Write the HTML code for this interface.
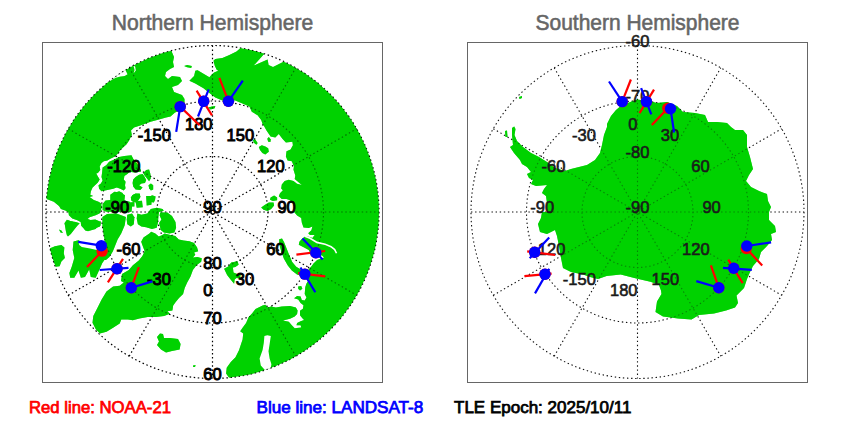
<!DOCTYPE html>
<html><head><meta charset="utf-8"><title>Satellite crossings</title>
<style>
html,body{margin:0;padding:0;background:#fff;}
body{width:850px;height:425px;overflow:hidden;font-family:"Liberation Sans",sans-serif;}
svg{display:block;}
.t{font-family:"Liberation Sans",sans-serif;}
</style></head><body>
<svg width="850" height="425" viewBox="0 0 850 425">
<defs>
<clipPath id="cn"><circle cx="212.5" cy="212.0" r="166.5"/></clipPath>
<clipPath id="cs"><circle cx="637.5" cy="212.0" r="166.5"/></clipPath>
</defs>
<rect width="850" height="425" fill="#fff"/>
<g clip-path="url(#cn)">
<polygon fill="#00d200" points="172.0,30.0 171.0,50.0 174.0,57.0 173.0,62.0 174.0,67.0 170.0,69.0 166.0,72.0 165.0,76.0 168.0,79.0 172.0,76.0 180.0,77.0 182.0,81.0 178.0,85.0 172.0,87.0 174.0,92.0 182.0,95.0 184.5,99.0 184.5,104.0 181.0,110.0 175.0,112.5 170.5,116.5 166.0,117.6 159.0,119.4 150.6,121.8 141.0,125.3 134.0,127.6 131.0,130.6 131.8,134.7 129.4,140.0 126.6,144.2 120.3,150.0 117.9,153.5 115.0,156.5 110.3,158.8 107.4,160.6 103.8,161.2 101.5,162.9 99.7,166.5 100.3,170.0 97.9,172.9 96.2,173.5 97.9,176.5 99.7,179.4 97.9,182.4 95.0,185.3 92.6,187.6 90.9,191.2 90.3,194.7 93.2,195.9 89.6,197.0 93.8,200.0 98.5,201.8 101.4,203.5 101.4,209.0 99.5,213.6 95.6,215.3 89.6,217.3 87.2,219.2 90.6,220.7 95.6,221.2 101.0,221.5 100.5,225.7 97.5,226.7 95.6,229.1 88.6,231.1 84.7,229.6 81.2,225.7 80.7,221.9 77.3,220.2 72.3,218.6 68.9,215.3 68.4,212.3 65.9,210.8 60.9,208.9 59.0,205.9 53.8,201.8 46.0,198.8 30.0,198.0 30.0,30.0"/>
<polygon fill="#00d200" points="64.4,223.2 66.9,219.7 70.8,221.2 75.8,221.9 79.7,223.2 77.3,225.7 74.3,229.6 70.8,234.1 67.9,236.6 66.9,234.1 68.9,229.6 65.9,226.7"/>
<polygon fill="#00d200" points="59.0,229.6 61.4,230.6 62.9,233.1 60.5,232.6"/>
<polygon fill="#00d200" points="46.7,248.5 50.8,247.9 54.9,246.2 61.4,245.0 64.4,247.4 63.8,253.2 64.9,257.9 61.4,261.5 59.6,266.2 55.5,266.8 53.2,260.3 49.1,255.6"/>
<polygon fill="#00d200" points="229.6,378.4 226.1,373.6 226.7,367.8 230.8,361.9 235.5,357.2 239.1,350.1 241.4,343.1 242.6,339.5 243.2,333.6 240.2,331.3 242.6,327.8 246.1,323.1 248.5,317.2 252.0,313.6 255.5,308.9 259.1,307.2 262.6,305.4 265.3,304.7 267.6,307.6 271.2,306.5 275.9,307.6 281.8,306.5 290.0,305.9 295.9,307.6 297.6,310.6 297.1,314.1 294.7,316.5 290.0,318.8 282.9,320.6 288.8,321.8 291.8,325.3 294.7,328.2 301.2,327.6 300.6,325.3 296.5,325.3 297.1,322.9 300.6,321.2 304.1,320.0 302.4,318.2 300.0,315.3 300.0,310.8 302.9,308.8 303.5,305.3 300.6,302.9 298.2,299.4 294.1,298.2 297.1,295.9 300.6,296.5 301.8,300.0 304.7,300.6 306.5,297.6 304.7,294.1 305.3,287.1 306.5,283.5 308.8,280.0 305.3,274.1 308.8,269.4 310.6,267.6 313.5,263.5 317.1,260.0 324.1,257.6 321.8,255.3 317.1,257.6 311.2,255.3 308.8,250.0 304.1,247.6 298.8,244.7 299.4,241.8 301.8,239.1 305.3,236.2 308.8,236.8 312.4,237.9 314.7,235.0 310.0,235.0 308.2,233.2 311.4,230.3 312.4,226.4 308.8,227.9 303.5,227.4 301.8,222.6 301.2,217.9 297.1,215.6 294.1,212.1 294.7,209.7 293.5,203.8 290.0,200.3 286.5,199.1 281.8,199.1 278.8,196.2 280.0,193.2 282.9,190.3 281.2,188.5 281.8,184.4 284.7,180.9 288.8,179.7 293.5,180.9 297.0,183.8 301.8,185.0 294.7,179.1 295.3,175.6 293.5,169.7 294.1,165.0 293.5,165.3 291.8,161.2 287.6,160.6 285.9,156.5 286.5,151.2 290.6,149.4 292.9,145.3 292.4,141.8 285.9,142.4 282.4,138.8 278.8,134.1 275.3,137.6 270.6,136.5 266.5,130.6 264.0,126.0 262.9,124.7 261.2,120.0 257.6,115.3 251.8,111.8 249.4,106.5 242.4,103.5 235.3,100.6 222.4,100.6 215.3,97.6 209.4,92.9 203.5,88.2 195.3,83.5 189.4,80.8 194.1,76.1 195.3,70.8 197.6,70.2 203.5,73.8 209.4,77.3 211.8,74.4 214.1,72.6 218.2,70.8 216.5,69.6 214.7,65.5 213.5,60.8 215.3,59.0 222.4,57.9 229.4,54.9 236.5,51.4 240.6,47.9 265.0,53.0 253.6,65.6 267.6,59.6 268.6,65.0 273.0,67.0 280.0,63.6 285.0,61.0 300.0,30.0 400.0,30.0 400.0,400.0 260.0,400.0 240.0,395.0"/>
<polygon fill="#fff" points="264.4,336.0 267.3,335.2 270.8,336.0 269.6,344.2 268.5,351.3 269.6,358.4 271.4,364.2 270.8,367.5 275.0,380.0 262.0,380.0 264.9,370.1 260.8,365.4 259.6,358.4 262.6,350.1 263.8,343.1"/>
<polygon fill="#fff" points="305.0,235.5 310.0,237.3 317.0,241.6 325.3,243.5 331.5,246.0 335.3,249.0 337.2,253.0 335.8,253.4 334.0,250.0 330.8,247.5 325.0,245.1 316.6,243.2 309.6,238.9 304.6,236.9"/>
<polygon fill="#00d200" points="279.2,239.2 282.0,238.6 284.0,242.0 286.0,247.0 289.2,255.0 292.2,262.0 296.2,266.8 301.2,269.8 306.4,270.8 307.0,275.6 302.0,276.0 297.0,274.4 291.8,270.4 287.8,265.4 283.8,258.4 281.0,250.4 279.2,244.0"/>
<polygon fill="#00d200" points="298.2,286.5 301.2,285.9 302.4,288.8 300.0,290.4 298.2,288.8"/>
<polygon fill="#00d200" points="267.3,138.8 268.8,137.1 270.8,139.4 270.4,142.1 268.2,141.8"/>
<polygon fill="#00d200" points="258.8,147.1 261.8,145.3 265.3,146.5 268.2,148.2 268.8,151.8 265.3,154.4 262.4,152.9 260.0,150.0"/>
<polygon fill="#00d200" points="252.9,140.0 255.3,139.4 257.6,142.9 256.5,144.7 254.1,142.9"/>
<polygon fill="#00d200" points="270.6,197.4 274.1,195.6 277.1,197.4 277.1,200.3 272.9,200.9 270.0,199.7"/>
<polygon fill="#00d200" points="261.2,207.4 264.7,205.0 268.8,202.6 273.5,202.6 274.1,205.6 271.2,209.1 267.6,210.9 263.5,209.7"/>
<polygon fill="#00d200" points="208.2,107.6 211.8,106.5 215.3,106.1 214.7,108.2 210.6,109.4"/>
<polygon fill="#00d200" points="184.1,66.1 187.1,64.9 191.8,66.1 191.2,67.9 187.1,67.3"/>
<polygon fill="#00d200" points="224.1,268.8 228.2,266.5 231.2,262.4 237.6,261.2 238.6,264.7 235.3,267.1 232.9,267.6 233.5,272.6 236.5,273.8 240.6,274.9 240.0,278.5 236.5,277.9 234.7,279.6 234.1,283.8 230.6,279.6 227.1,274.9"/>
<polygon fill="#00d200" points="157.0,337.0 160.0,333.6 163.0,334.0 164.0,338.0 170.0,338.0 178.0,339.0 180.6,344.0 179.6,349.4 172.0,351.0 166.0,352.4 161.0,349.4 157.0,345.0 159.0,341.4"/>
<polygon fill="#00d200" points="193.0,365.4 195.6,365.0 195.0,367.0 193.2,367.0"/>
<polygon fill="#00d200" points="128.8,270.0 132.9,265.3 138.8,260.6 142.4,255.9 144.7,251.2 142.9,246.5 141.2,241.8 143.5,237.6 149.4,233.5 151.2,231.8 155.3,233.5 158.8,236.5 161.8,235.3 164.7,233.5 169.4,234.7 175.3,235.9 178.8,239.4 183.5,240.6 189.4,241.2 194.1,242.9 197.1,247.6 198.2,251.2 194.1,252.4 195.3,254.7 192.9,257.6 197.6,257.1 201.8,258.2 201.2,261.8 196.5,265.3 192.9,270.0 190.5,276.6 187.2,282.4 184.7,288.1 183.1,293.9 179.0,298.0 175.7,302.1 173.2,305.4 172.4,310.4 167.4,311.2 169.9,313.7 164.1,316.1 155.9,317.0 147.7,317.0 139.4,318.6 132.8,320.2 127.9,319.4 121.3,319.4 119.7,323.5 113.1,327.7 106.5,331.8 99.9,333.4 95.8,329.3 92.5,322.7 93.3,316.1 97.4,307.9 101.5,299.7 106.5,291.4 113.1,286.5 119.7,285.7 123.8,282.4 121.0,281.0 122.0,274.0"/>
<polygon fill="#00d200" points="124.4,155.9 131.5,155.3 133.2,158.8 136.8,162.9 140.3,168.8 140.9,171.8 134.4,172.4 129.7,171.8 127.4,174.1 124.4,175.9 123.8,179.4 125.6,181.8 125.0,185.3 125.6,188.2 123.8,190.6 120.3,188.8 116.8,187.6 113.2,188.8 109.7,189.4 105.0,190.6 101.5,191.2 99.1,188.8 98.5,185.3 100.9,183.5 102.6,180.6 101.5,177.1 102.1,172.4 102.6,167.6 106.2,165.3 109.1,161.8 114.4,159.4 119.1,157.1"/>
<polygon fill="#00d200" points="133.2,179.4 135.6,177.1 139.1,174.7 142.6,174.1 144.4,176.5 146.2,180.0 145.0,182.9 141.5,183.5 139.1,185.3 142.6,187.6 140.3,190.0 135.6,189.4 133.2,186.5 132.6,182.9"/>
<polygon fill="#00d200" points="143.2,172.9 146.2,170.0 149.1,169.4 150.3,173.5 150.9,178.2 149.1,181.2 146.8,178.2 144.4,175.3"/>
<polygon fill="#00d200" points="148.5,185.3 150.9,183.5 153.2,185.3 153.2,189.4 150.9,190.6 149.1,188.2"/>
<polygon fill="#00d200" points="112.6,194.7 115.6,192.4 119.1,191.2 122.6,192.9 123.8,197.1 122.6,200.0 120.3,201.8 113.2,201.8"/>
<polygon fill="#00d200" points="132.1,195.3 135.6,193.5 139.7,194.1 140.3,197.1 138.5,200.0 136.8,202.4 132.6,201.8"/>
<polygon fill="#00d200" points="149.1,197.1 152.1,195.3 155.6,196.5 155.0,200.0 153.8,202.4 149.1,201.8"/>
<polygon fill="#00d200" points="110.3,194.7 114.4,191.8 120.3,192.4 125.0,195.3 124.4,200.6 129.7,201.8 132.1,206.5 131.5,211.8 126.2,212.4 120.3,211.8 113.2,211.8 106.2,211.8 102.6,210.0 102.6,204.1 105.6,200.6 110.3,200.0"/>
<polygon fill="#00d200" points="130.9,197.1 134.4,194.1 139.7,193.5 140.3,197.1 137.9,200.6 132.1,201.2"/>
<polygon fill="#00d200" points="160.2,212.5 167.3,212.5 172.0,216.0 175.5,221.9 176.1,227.8 174.4,232.5 169.6,233.6 163.8,232.5 160.8,230.1 159.1,223.1 161.4,219.5 159.6,215.4"/>
<polygon fill="#00d200" points="137.3,213.6 141.4,214.8 147.3,213.6 150.8,208.9 156.7,207.8 162.6,208.9 163.8,210.7 159.1,211.9 158.5,216.0 157.9,223.1 156.7,227.8 152.0,228.9 146.1,227.2 141.4,226.6 137.9,224.2 136.7,218.4"/>
<polygon fill="#00d200" points="127.3,214.8 132.0,213.6 134.4,217.2 133.8,224.2 130.8,226.6 127.3,224.2 126.7,219.5"/>
<polygon fill="#00d200" points="130.8,197.2 135.5,197.2 135.5,200.7 131.4,200.7"/>
<polygon fill="#00d200" points="135.5,201.3 142.0,200.7 142.8,207.2 136.7,207.8"/>
<polygon fill="#00d200" points="146.1,196.0 152.0,196.0 151.4,204.8 146.7,205.4"/>
<polygon fill="#00d200" points="129.6,202.5 134.4,201.9 134.4,206.6 129.6,206.6"/>
<polygon fill="#00d200" points="102.4,217.1 107.1,214.1 116.5,213.5 125.9,217.1 124.7,225.3 121.2,233.5 117.6,239.4 115.3,245.3 112.9,251.2 109.4,257.1 105.9,260.0 98.8,260.0 101.2,251.2 104.7,240.6 103.5,233.5 102.4,225.3"/>
<polygon fill="#00d200" points="64.7,224.1 68.2,220.6 72.9,221.8 75.3,225.3 72.9,230.0 69.4,233.5 67.1,235.9 65.9,231.2"/>
<polygon fill="#00d200" points="81.8,221.8 85.3,218.2 90.6,220.0 95.3,219.4 99.4,221.2 100.0,226.5 95.3,228.2 90.6,227.6 88.2,231.2 85.3,230.6 82.9,226.5"/>
<polygon fill="#00d200" points="73.5,241.6 78.5,240.3 83.4,243.3 90.0,244.9 97.4,247.4 103.2,241.6 109.7,251.5 106.4,257.3 102.3,263.0 99.0,270.4 95.7,277.8 90.8,277.0 89.2,269.6 85.0,277.0 80.9,277.8 78.5,270.4 74.3,277.8 70.2,277.8 69.4,272.9 71.9,266.3 74.3,258.1 72.7,249.9"/>
<polygon fill="#fff" points="78.5,242.1 86.7,243.6 96.6,245.4 97.9,250.2 90.0,248.5 81.8,246.9 79.3,244.9"/>
<polygon fill="#fff" points="109.0,81.5 115.7,77.8 120.4,76.4 124.6,75.9 127.5,74.3 126.0,71.2 125.4,69.2 118.0,73.0 109.0,79.0"/>
<polygon fill="#fff" points="133.1,65.1 135.2,66.8 135.8,70.5 133.6,73.3 134.6,70.0 134.0,67.5"/>
</g>
<g clip-path="url(#cs)">
<polygon fill="#00d200" points="637.0,99.5 649.0,101.0 657.0,103.0 667.0,102.0 677.0,106.0 683.0,112.0 695.0,113.0 705.0,115.0 708.0,122.0 717.0,122.0 727.0,123.0 731.0,127.0 735.0,130.0 743.0,130.0 747.0,135.0 747.0,147.0 750.0,157.0 753.0,169.0 749.0,175.0 746.0,181.0 751.0,187.0 759.0,191.0 767.0,194.0 768.0,201.0 771.0,207.0 769.0,212.0 769.0,220.0 775.0,226.0 776.0,232.0 771.0,234.0 772.0,240.0 767.0,246.0 761.0,252.0 759.0,259.0 753.0,266.0 750.0,272.0 747.0,279.0 744.0,288.0 736.5,295.5 738.0,303.0 735.0,307.5 726.0,310.5 714.0,313.5 699.0,315.0 691.5,319.5 678.0,318.6 663.0,316.5 655.5,312.0 657.0,301.5 661.5,294.0 661.0,290.4 658.9,284.8 650.4,281.7 636.3,278.4 620.7,274.6 606.6,276.0 598.0,279.0 590.0,277.0 583.0,274.5 571.0,272.0 563.0,268.0 561.0,258.0 559.0,246.0 557.0,236.0 555.0,230.0 547.0,234.0 540.0,232.0 538.0,224.0 541.0,218.0 542.0,212.0 547.0,212.0 547.0,203.0 546.0,196.0 542.0,193.0 544.0,189.0 547.0,185.0 536.0,186.0 531.0,184.0 533.0,180.0 529.0,178.0 527.0,174.0 531.0,172.0 527.0,167.0 522.0,164.0 520.0,160.0 514.0,153.0 510.0,147.0 513.0,145.0 512.0,135.0 512.0,128.0 514.2,126.5 515.5,129.0 514.5,135.0 517.0,141.0 523.0,147.0 531.0,153.0 539.0,157.0 547.0,162.0 555.0,168.0 565.0,171.0 571.0,169.0 579.0,167.0 587.0,165.0 595.0,160.0 600.0,153.0 602.0,145.0 604.0,135.0 607.0,127.0 607.0,124.0 611.0,116.0 616.0,110.0 622.0,105.0 629.0,102.5"/>
<polygon fill="#00d200" points="505.0,131.0 507.0,130.5 507.5,137.0 505.5,137.0"/>
<polygon fill="#00d200" points="519.0,97.0 522.0,96.0 522.0,98.0 519.5,99.0"/>
</g>
<g fill="none" stroke="#000" stroke-width="1.2" stroke-dasharray="1.5 2.6"><circle cx="212.5" cy="212.0" r="166.50"/><circle cx="212.5" cy="212.0" r="111.00"/><circle cx="212.5" cy="212.0" r="55.50"/><line x1="212.5" y1="45.5" x2="212.5" y2="378.5"/><line x1="129.2" y1="67.8" x2="295.8" y2="356.2"/><line x1="68.3" y1="128.8" x2="356.7" y2="295.2"/><line x1="46.0" y1="212.0" x2="379.0" y2="212.0"/><line x1="68.3" y1="295.2" x2="356.7" y2="128.8"/><line x1="129.2" y1="356.2" x2="295.8" y2="67.8"/></g>
<g fill="none" stroke="#111" stroke-width="1.1" stroke-dasharray="1.4 2.7"><circle cx="637.5" cy="212.0" r="166.50"/><circle cx="637.5" cy="212.0" r="111.00"/><circle cx="637.5" cy="212.0" r="55.50"/><line x1="637.5" y1="45.5" x2="637.5" y2="378.5"/><line x1="554.2" y1="67.8" x2="720.8" y2="356.2"/><line x1="493.3" y1="128.8" x2="781.7" y2="295.2"/><line x1="471.0" y1="212.0" x2="804.0" y2="212.0"/><line x1="493.3" y1="295.2" x2="781.7" y2="128.8"/><line x1="554.2" y1="356.2" x2="720.8" y2="67.8"/></g>
<g clip-path="url(#cn)" opacity="0.56">
<polygon fill="#00d200" points="172.0,30.0 171.0,50.0 174.0,57.0 173.0,62.0 174.0,67.0 170.0,69.0 166.0,72.0 165.0,76.0 168.0,79.0 172.0,76.0 180.0,77.0 182.0,81.0 178.0,85.0 172.0,87.0 174.0,92.0 182.0,95.0 184.5,99.0 184.5,104.0 181.0,110.0 175.0,112.5 170.5,116.5 166.0,117.6 159.0,119.4 150.6,121.8 141.0,125.3 134.0,127.6 131.0,130.6 131.8,134.7 129.4,140.0 126.6,144.2 120.3,150.0 117.9,153.5 115.0,156.5 110.3,158.8 107.4,160.6 103.8,161.2 101.5,162.9 99.7,166.5 100.3,170.0 97.9,172.9 96.2,173.5 97.9,176.5 99.7,179.4 97.9,182.4 95.0,185.3 92.6,187.6 90.9,191.2 90.3,194.7 93.2,195.9 89.6,197.0 93.8,200.0 98.5,201.8 101.4,203.5 101.4,209.0 99.5,213.6 95.6,215.3 89.6,217.3 87.2,219.2 90.6,220.7 95.6,221.2 101.0,221.5 100.5,225.7 97.5,226.7 95.6,229.1 88.6,231.1 84.7,229.6 81.2,225.7 80.7,221.9 77.3,220.2 72.3,218.6 68.9,215.3 68.4,212.3 65.9,210.8 60.9,208.9 59.0,205.9 53.8,201.8 46.0,198.8 30.0,198.0 30.0,30.0"/>
<polygon fill="#00d200" points="64.4,223.2 66.9,219.7 70.8,221.2 75.8,221.9 79.7,223.2 77.3,225.7 74.3,229.6 70.8,234.1 67.9,236.6 66.9,234.1 68.9,229.6 65.9,226.7"/>
<polygon fill="#00d200" points="59.0,229.6 61.4,230.6 62.9,233.1 60.5,232.6"/>
<polygon fill="#00d200" points="46.7,248.5 50.8,247.9 54.9,246.2 61.4,245.0 64.4,247.4 63.8,253.2 64.9,257.9 61.4,261.5 59.6,266.2 55.5,266.8 53.2,260.3 49.1,255.6"/>
<polygon fill="#00d200" points="229.6,378.4 226.1,373.6 226.7,367.8 230.8,361.9 235.5,357.2 239.1,350.1 241.4,343.1 242.6,339.5 243.2,333.6 240.2,331.3 242.6,327.8 246.1,323.1 248.5,317.2 252.0,313.6 255.5,308.9 259.1,307.2 262.6,305.4 265.3,304.7 267.6,307.6 271.2,306.5 275.9,307.6 281.8,306.5 290.0,305.9 295.9,307.6 297.6,310.6 297.1,314.1 294.7,316.5 290.0,318.8 282.9,320.6 288.8,321.8 291.8,325.3 294.7,328.2 301.2,327.6 300.6,325.3 296.5,325.3 297.1,322.9 300.6,321.2 304.1,320.0 302.4,318.2 300.0,315.3 300.0,310.8 302.9,308.8 303.5,305.3 300.6,302.9 298.2,299.4 294.1,298.2 297.1,295.9 300.6,296.5 301.8,300.0 304.7,300.6 306.5,297.6 304.7,294.1 305.3,287.1 306.5,283.5 308.8,280.0 305.3,274.1 308.8,269.4 310.6,267.6 313.5,263.5 317.1,260.0 324.1,257.6 321.8,255.3 317.1,257.6 311.2,255.3 308.8,250.0 304.1,247.6 298.8,244.7 299.4,241.8 301.8,239.1 305.3,236.2 308.8,236.8 312.4,237.9 314.7,235.0 310.0,235.0 308.2,233.2 311.4,230.3 312.4,226.4 308.8,227.9 303.5,227.4 301.8,222.6 301.2,217.9 297.1,215.6 294.1,212.1 294.7,209.7 293.5,203.8 290.0,200.3 286.5,199.1 281.8,199.1 278.8,196.2 280.0,193.2 282.9,190.3 281.2,188.5 281.8,184.4 284.7,180.9 288.8,179.7 293.5,180.9 297.0,183.8 301.8,185.0 294.7,179.1 295.3,175.6 293.5,169.7 294.1,165.0 293.5,165.3 291.8,161.2 287.6,160.6 285.9,156.5 286.5,151.2 290.6,149.4 292.9,145.3 292.4,141.8 285.9,142.4 282.4,138.8 278.8,134.1 275.3,137.6 270.6,136.5 266.5,130.6 264.0,126.0 262.9,124.7 261.2,120.0 257.6,115.3 251.8,111.8 249.4,106.5 242.4,103.5 235.3,100.6 222.4,100.6 215.3,97.6 209.4,92.9 203.5,88.2 195.3,83.5 189.4,80.8 194.1,76.1 195.3,70.8 197.6,70.2 203.5,73.8 209.4,77.3 211.8,74.4 214.1,72.6 218.2,70.8 216.5,69.6 214.7,65.5 213.5,60.8 215.3,59.0 222.4,57.9 229.4,54.9 236.5,51.4 240.6,47.9 265.0,53.0 253.6,65.6 267.6,59.6 268.6,65.0 273.0,67.0 280.0,63.6 285.0,61.0 300.0,30.0 400.0,30.0 400.0,400.0 260.0,400.0 240.0,395.0"/>
<polygon fill="#fff" points="264.4,336.0 267.3,335.2 270.8,336.0 269.6,344.2 268.5,351.3 269.6,358.4 271.4,364.2 270.8,367.5 275.0,380.0 262.0,380.0 264.9,370.1 260.8,365.4 259.6,358.4 262.6,350.1 263.8,343.1"/>
<polygon fill="#fff" points="305.0,235.5 310.0,237.3 317.0,241.6 325.3,243.5 331.5,246.0 335.3,249.0 337.2,253.0 335.8,253.4 334.0,250.0 330.8,247.5 325.0,245.1 316.6,243.2 309.6,238.9 304.6,236.9"/>
<polygon fill="#00d200" points="279.2,239.2 282.0,238.6 284.0,242.0 286.0,247.0 289.2,255.0 292.2,262.0 296.2,266.8 301.2,269.8 306.4,270.8 307.0,275.6 302.0,276.0 297.0,274.4 291.8,270.4 287.8,265.4 283.8,258.4 281.0,250.4 279.2,244.0"/>
<polygon fill="#00d200" points="298.2,286.5 301.2,285.9 302.4,288.8 300.0,290.4 298.2,288.8"/>
<polygon fill="#00d200" points="267.3,138.8 268.8,137.1 270.8,139.4 270.4,142.1 268.2,141.8"/>
<polygon fill="#00d200" points="258.8,147.1 261.8,145.3 265.3,146.5 268.2,148.2 268.8,151.8 265.3,154.4 262.4,152.9 260.0,150.0"/>
<polygon fill="#00d200" points="252.9,140.0 255.3,139.4 257.6,142.9 256.5,144.7 254.1,142.9"/>
<polygon fill="#00d200" points="270.6,197.4 274.1,195.6 277.1,197.4 277.1,200.3 272.9,200.9 270.0,199.7"/>
<polygon fill="#00d200" points="261.2,207.4 264.7,205.0 268.8,202.6 273.5,202.6 274.1,205.6 271.2,209.1 267.6,210.9 263.5,209.7"/>
<polygon fill="#00d200" points="208.2,107.6 211.8,106.5 215.3,106.1 214.7,108.2 210.6,109.4"/>
<polygon fill="#00d200" points="184.1,66.1 187.1,64.9 191.8,66.1 191.2,67.9 187.1,67.3"/>
<polygon fill="#00d200" points="224.1,268.8 228.2,266.5 231.2,262.4 237.6,261.2 238.6,264.7 235.3,267.1 232.9,267.6 233.5,272.6 236.5,273.8 240.6,274.9 240.0,278.5 236.5,277.9 234.7,279.6 234.1,283.8 230.6,279.6 227.1,274.9"/>
<polygon fill="#00d200" points="157.0,337.0 160.0,333.6 163.0,334.0 164.0,338.0 170.0,338.0 178.0,339.0 180.6,344.0 179.6,349.4 172.0,351.0 166.0,352.4 161.0,349.4 157.0,345.0 159.0,341.4"/>
<polygon fill="#00d200" points="193.0,365.4 195.6,365.0 195.0,367.0 193.2,367.0"/>
<polygon fill="#00d200" points="128.8,270.0 132.9,265.3 138.8,260.6 142.4,255.9 144.7,251.2 142.9,246.5 141.2,241.8 143.5,237.6 149.4,233.5 151.2,231.8 155.3,233.5 158.8,236.5 161.8,235.3 164.7,233.5 169.4,234.7 175.3,235.9 178.8,239.4 183.5,240.6 189.4,241.2 194.1,242.9 197.1,247.6 198.2,251.2 194.1,252.4 195.3,254.7 192.9,257.6 197.6,257.1 201.8,258.2 201.2,261.8 196.5,265.3 192.9,270.0 190.5,276.6 187.2,282.4 184.7,288.1 183.1,293.9 179.0,298.0 175.7,302.1 173.2,305.4 172.4,310.4 167.4,311.2 169.9,313.7 164.1,316.1 155.9,317.0 147.7,317.0 139.4,318.6 132.8,320.2 127.9,319.4 121.3,319.4 119.7,323.5 113.1,327.7 106.5,331.8 99.9,333.4 95.8,329.3 92.5,322.7 93.3,316.1 97.4,307.9 101.5,299.7 106.5,291.4 113.1,286.5 119.7,285.7 123.8,282.4 121.0,281.0 122.0,274.0"/>
<polygon fill="#00d200" points="124.4,155.9 131.5,155.3 133.2,158.8 136.8,162.9 140.3,168.8 140.9,171.8 134.4,172.4 129.7,171.8 127.4,174.1 124.4,175.9 123.8,179.4 125.6,181.8 125.0,185.3 125.6,188.2 123.8,190.6 120.3,188.8 116.8,187.6 113.2,188.8 109.7,189.4 105.0,190.6 101.5,191.2 99.1,188.8 98.5,185.3 100.9,183.5 102.6,180.6 101.5,177.1 102.1,172.4 102.6,167.6 106.2,165.3 109.1,161.8 114.4,159.4 119.1,157.1"/>
<polygon fill="#00d200" points="133.2,179.4 135.6,177.1 139.1,174.7 142.6,174.1 144.4,176.5 146.2,180.0 145.0,182.9 141.5,183.5 139.1,185.3 142.6,187.6 140.3,190.0 135.6,189.4 133.2,186.5 132.6,182.9"/>
<polygon fill="#00d200" points="143.2,172.9 146.2,170.0 149.1,169.4 150.3,173.5 150.9,178.2 149.1,181.2 146.8,178.2 144.4,175.3"/>
<polygon fill="#00d200" points="148.5,185.3 150.9,183.5 153.2,185.3 153.2,189.4 150.9,190.6 149.1,188.2"/>
<polygon fill="#00d200" points="112.6,194.7 115.6,192.4 119.1,191.2 122.6,192.9 123.8,197.1 122.6,200.0 120.3,201.8 113.2,201.8"/>
<polygon fill="#00d200" points="132.1,195.3 135.6,193.5 139.7,194.1 140.3,197.1 138.5,200.0 136.8,202.4 132.6,201.8"/>
<polygon fill="#00d200" points="149.1,197.1 152.1,195.3 155.6,196.5 155.0,200.0 153.8,202.4 149.1,201.8"/>
<polygon fill="#00d200" points="110.3,194.7 114.4,191.8 120.3,192.4 125.0,195.3 124.4,200.6 129.7,201.8 132.1,206.5 131.5,211.8 126.2,212.4 120.3,211.8 113.2,211.8 106.2,211.8 102.6,210.0 102.6,204.1 105.6,200.6 110.3,200.0"/>
<polygon fill="#00d200" points="130.9,197.1 134.4,194.1 139.7,193.5 140.3,197.1 137.9,200.6 132.1,201.2"/>
<polygon fill="#00d200" points="160.2,212.5 167.3,212.5 172.0,216.0 175.5,221.9 176.1,227.8 174.4,232.5 169.6,233.6 163.8,232.5 160.8,230.1 159.1,223.1 161.4,219.5 159.6,215.4"/>
<polygon fill="#00d200" points="137.3,213.6 141.4,214.8 147.3,213.6 150.8,208.9 156.7,207.8 162.6,208.9 163.8,210.7 159.1,211.9 158.5,216.0 157.9,223.1 156.7,227.8 152.0,228.9 146.1,227.2 141.4,226.6 137.9,224.2 136.7,218.4"/>
<polygon fill="#00d200" points="127.3,214.8 132.0,213.6 134.4,217.2 133.8,224.2 130.8,226.6 127.3,224.2 126.7,219.5"/>
<polygon fill="#00d200" points="130.8,197.2 135.5,197.2 135.5,200.7 131.4,200.7"/>
<polygon fill="#00d200" points="135.5,201.3 142.0,200.7 142.8,207.2 136.7,207.8"/>
<polygon fill="#00d200" points="146.1,196.0 152.0,196.0 151.4,204.8 146.7,205.4"/>
<polygon fill="#00d200" points="129.6,202.5 134.4,201.9 134.4,206.6 129.6,206.6"/>
<polygon fill="#00d200" points="102.4,217.1 107.1,214.1 116.5,213.5 125.9,217.1 124.7,225.3 121.2,233.5 117.6,239.4 115.3,245.3 112.9,251.2 109.4,257.1 105.9,260.0 98.8,260.0 101.2,251.2 104.7,240.6 103.5,233.5 102.4,225.3"/>
<polygon fill="#00d200" points="64.7,224.1 68.2,220.6 72.9,221.8 75.3,225.3 72.9,230.0 69.4,233.5 67.1,235.9 65.9,231.2"/>
<polygon fill="#00d200" points="81.8,221.8 85.3,218.2 90.6,220.0 95.3,219.4 99.4,221.2 100.0,226.5 95.3,228.2 90.6,227.6 88.2,231.2 85.3,230.6 82.9,226.5"/>
<polygon fill="#00d200" points="73.5,241.6 78.5,240.3 83.4,243.3 90.0,244.9 97.4,247.4 103.2,241.6 109.7,251.5 106.4,257.3 102.3,263.0 99.0,270.4 95.7,277.8 90.8,277.0 89.2,269.6 85.0,277.0 80.9,277.8 78.5,270.4 74.3,277.8 70.2,277.8 69.4,272.9 71.9,266.3 74.3,258.1 72.7,249.9"/>
<polygon fill="#fff" points="78.5,242.1 86.7,243.6 96.6,245.4 97.9,250.2 90.0,248.5 81.8,246.9 79.3,244.9"/>
<polygon fill="#fff" points="109.0,81.5 115.7,77.8 120.4,76.4 124.6,75.9 127.5,74.3 126.0,71.2 125.4,69.2 118.0,73.0 109.0,79.0"/>
<polygon fill="#fff" points="133.1,65.1 135.2,66.8 135.8,70.5 133.6,73.3 134.6,70.0 134.0,67.5"/>
</g>
<g clip-path="url(#cs)" opacity="0.6">
<polygon fill="#00d200" points="637.0,99.5 649.0,101.0 657.0,103.0 667.0,102.0 677.0,106.0 683.0,112.0 695.0,113.0 705.0,115.0 708.0,122.0 717.0,122.0 727.0,123.0 731.0,127.0 735.0,130.0 743.0,130.0 747.0,135.0 747.0,147.0 750.0,157.0 753.0,169.0 749.0,175.0 746.0,181.0 751.0,187.0 759.0,191.0 767.0,194.0 768.0,201.0 771.0,207.0 769.0,212.0 769.0,220.0 775.0,226.0 776.0,232.0 771.0,234.0 772.0,240.0 767.0,246.0 761.0,252.0 759.0,259.0 753.0,266.0 750.0,272.0 747.0,279.0 744.0,288.0 736.5,295.5 738.0,303.0 735.0,307.5 726.0,310.5 714.0,313.5 699.0,315.0 691.5,319.5 678.0,318.6 663.0,316.5 655.5,312.0 657.0,301.5 661.5,294.0 661.0,290.4 658.9,284.8 650.4,281.7 636.3,278.4 620.7,274.6 606.6,276.0 598.0,279.0 590.0,277.0 583.0,274.5 571.0,272.0 563.0,268.0 561.0,258.0 559.0,246.0 557.0,236.0 555.0,230.0 547.0,234.0 540.0,232.0 538.0,224.0 541.0,218.0 542.0,212.0 547.0,212.0 547.0,203.0 546.0,196.0 542.0,193.0 544.0,189.0 547.0,185.0 536.0,186.0 531.0,184.0 533.0,180.0 529.0,178.0 527.0,174.0 531.0,172.0 527.0,167.0 522.0,164.0 520.0,160.0 514.0,153.0 510.0,147.0 513.0,145.0 512.0,135.0 512.0,128.0 514.2,126.5 515.5,129.0 514.5,135.0 517.0,141.0 523.0,147.0 531.0,153.0 539.0,157.0 547.0,162.0 555.0,168.0 565.0,171.0 571.0,169.0 579.0,167.0 587.0,165.0 595.0,160.0 600.0,153.0 602.0,145.0 604.0,135.0 607.0,127.0 607.0,124.0 611.0,116.0 616.0,110.0 622.0,105.0 629.0,102.5"/>
<polygon fill="#00d200" points="505.0,131.0 507.0,130.5 507.5,137.0 505.5,137.0"/>
<polygon fill="#00d200" points="519.0,97.0 522.0,96.0 522.0,98.0 519.5,99.0"/>
</g>
<rect x="42.5" y="42.5" width="340" height="340" fill="none" stroke="#666" stroke-width="1"/>
<rect x="467.5" y="42.5" width="340" height="340" fill="none" stroke="#666" stroke-width="1"/>
<g class="t" font-size="16.5" fill="#000" stroke="#000" stroke-width="0.95" text-anchor="middle">
<text x="212.5" y="129.9"><tspan text-anchor="end">180</tspan></text>
<text x="254.1" y="141.1"><tspan text-anchor="end">150</tspan></text>
<text x="284.6" y="171.6"><tspan text-anchor="end">120</tspan></text>
<text x="295.8" y="213.2"><tspan text-anchor="end">90</tspan></text>
<text x="284.6" y="254.8"><tspan text-anchor="end">60</tspan></text>
<text x="254.1" y="285.3"><tspan text-anchor="end">30</tspan></text>
<text x="212.5" y="296.4"><tspan text-anchor="end">0</tspan></text>
<text x="170.9" y="285.3"><tspan text-anchor="end">-30</tspan></text>
<text x="140.4" y="254.8"><tspan text-anchor="end">-60</tspan></text>
<text x="129.2" y="213.2"><tspan text-anchor="end">-90</tspan></text>
<text x="140.4" y="171.6"><tspan text-anchor="end">-120</tspan></text>
<text x="170.9" y="141.1"><tspan text-anchor="end">-150</tspan></text>
<text x="212.5" y="213.2">90</text>
<text x="212.5" y="268.7">80</text>
<text x="212.5" y="324.2">70</text>
<text x="212.5" y="379.7">60</text>
</g>
<g class="t" font-size="16.5" fill="#1a1a1a" stroke="#1a1a1a" stroke-width="0.6" text-anchor="middle">
<text x="637.5" y="296.4"><tspan text-anchor="end">180</tspan></text>
<text x="679.1" y="285.3"><tspan text-anchor="end">150</tspan></text>
<text x="709.6" y="254.8"><tspan text-anchor="end">120</tspan></text>
<text x="720.8" y="213.2"><tspan text-anchor="end">90</tspan></text>
<text x="709.6" y="171.6"><tspan text-anchor="end">60</tspan></text>
<text x="679.1" y="141.1"><tspan text-anchor="end">30</tspan></text>
<text x="637.5" y="129.9"><tspan text-anchor="end">0</tspan></text>
<text x="595.9" y="141.1"><tspan text-anchor="end">-30</tspan></text>
<text x="565.4" y="171.6"><tspan text-anchor="end">-60</tspan></text>
<text x="554.2" y="213.2"><tspan text-anchor="end">-90</tspan></text>
<text x="565.4" y="254.8"><tspan text-anchor="end">-120</tspan></text>
<text x="595.9" y="285.3"><tspan text-anchor="end">-150</tspan></text>
<text x="637.5" y="213.2">-90</text>
<text x="637.5" y="157.7">-80</text>
<text x="637.5" y="102.2">-70</text>
<text x="637.5" y="46.7">-60</text>
</g>
<line x1="180.2" y1="106.6" x2="199.6" y2="125.2" stroke="#f00" stroke-width="2.2"/>
<circle cx="180.2" cy="106.6" r="5.7" fill="#f00"/>
<line x1="180.2" y1="106.6" x2="176.2" y2="131.8" stroke="#00f" stroke-width="2.2"/>
<circle cx="180.2" cy="106.6" r="5.7" fill="#00f"/>
<line x1="196.6" y1="90.6" x2="212.0" y2="115.3" stroke="#f00" stroke-width="2.2"/>
<circle cx="203.7" cy="101.3" r="5.7" fill="#f00"/>
<line x1="208.7" y1="89.4" x2="198.0" y2="116.5" stroke="#00f" stroke-width="2.2"/>
<circle cx="203.7" cy="101.3" r="5.7" fill="#00f"/>
<line x1="228.4" y1="101.3" x2="219.4" y2="77.9" stroke="#f00" stroke-width="2.2"/>
<circle cx="228.4" cy="101.3" r="5.7" fill="#f00"/>
<line x1="228.4" y1="101.3" x2="242.8" y2="80.7" stroke="#00f" stroke-width="2.2"/>
<circle cx="228.4" cy="101.3" r="5.7" fill="#00f"/>
<line x1="102.1" y1="251.1" x2="87.0" y2="267.1" stroke="#f00" stroke-width="2.2"/>
<circle cx="102.1" cy="251.1" r="5.7" fill="#f00"/>
<line x1="101.3" y1="245.7" x2="78.2" y2="241.9" stroke="#00f" stroke-width="2.2"/>
<circle cx="101.3" cy="245.7" r="5.7" fill="#00f"/>
<line x1="123.0" y1="258.8" x2="107.9" y2="282.4" stroke="#f00" stroke-width="2.2"/>
<circle cx="117.0" cy="268.7" r="5.7" fill="#f00"/>
<line x1="99.7" y1="270.0" x2="128.5" y2="267.9" stroke="#00f" stroke-width="2.2"/>
<circle cx="117.0" cy="268.7" r="5.7" fill="#00f"/>
<line x1="131.3" y1="287.7" x2="138.9" y2="267.1" stroke="#f00" stroke-width="2.2"/>
<circle cx="131.3" cy="287.7" r="5.7" fill="#f00"/>
<line x1="131.3" y1="287.7" x2="152.4" y2="281.4" stroke="#00f" stroke-width="2.2"/>
<circle cx="131.3" cy="287.7" r="5.7" fill="#00f"/>
<line x1="296.4" y1="254.7" x2="325.2" y2="251.0" stroke="#f00" stroke-width="2.2"/>
<circle cx="315.8" cy="252.7" r="5.7" fill="#f00"/>
<line x1="302.5" y1="238.5" x2="322.7" y2="259.6" stroke="#00f" stroke-width="2.2"/>
<circle cx="315.8" cy="252.7" r="5.7" fill="#00f"/>
<line x1="298.0" y1="273.1" x2="325.2" y2="276.4" stroke="#f00" stroke-width="2.2"/>
<circle cx="304.9" cy="274.1" r="5.7" fill="#f00"/>
<line x1="300.5" y1="267.5" x2="315.3" y2="292.2" stroke="#00f" stroke-width="2.2"/>
<circle cx="304.9" cy="274.1" r="5.7" fill="#00f"/>
<line x1="622.2" y1="101.6" x2="630.9" y2="79.5" stroke="#f00" stroke-width="2.2"/>
<circle cx="622.2" cy="101.6" r="5.7" fill="#f00"/>
<line x1="622.2" y1="101.6" x2="609.0" y2="81.5" stroke="#00f" stroke-width="2.2"/>
<circle cx="622.2" cy="101.6" r="5.7" fill="#00f"/>
<line x1="654.0" y1="89.7" x2="639.5" y2="113.1" stroke="#f00" stroke-width="2.2"/>
<circle cx="646.4" cy="101.6" r="5.7" fill="#f00"/>
<line x1="641.1" y1="88.1" x2="651.3" y2="114.4" stroke="#00f" stroke-width="2.2"/>
<circle cx="646.4" cy="101.6" r="5.7" fill="#00f"/>
<line x1="667.8" y1="108.2" x2="651.8" y2="125.1" stroke="#f00" stroke-width="2.2"/>
<circle cx="667.8" cy="108.2" r="5.7" fill="#f00"/>
<line x1="670.5" y1="108.7" x2="674.1" y2="132.5" stroke="#00f" stroke-width="2.2"/>
<circle cx="670.5" cy="108.7" r="5.7" fill="#00f"/>
<line x1="527.2" y1="251.4" x2="555.2" y2="255.0" stroke="#f00" stroke-width="2.2"/>
<circle cx="534.7" cy="252.2" r="5.7" fill="#f00"/>
<line x1="529.7" y1="258.3" x2="549.2" y2="237.4" stroke="#00f" stroke-width="2.2"/>
<circle cx="534.7" cy="252.2" r="5.7" fill="#00f"/>
<line x1="524.4" y1="276.1" x2="551.6" y2="273.7" stroke="#f00" stroke-width="2.2"/>
<circle cx="545.0" cy="274.2" r="5.7" fill="#f00"/>
<line x1="549.2" y1="268.7" x2="535.0" y2="293.4" stroke="#00f" stroke-width="2.2"/>
<circle cx="545.0" cy="274.2" r="5.7" fill="#00f"/>
<line x1="746.3" y1="248.5" x2="762.2" y2="265.4" stroke="#f00" stroke-width="2.2"/>
<circle cx="746.3" cy="248.5" r="5.7" fill="#f00"/>
<line x1="746.8" y1="246.0" x2="771.1" y2="242.4" stroke="#00f" stroke-width="2.2"/>
<circle cx="746.8" cy="246.0" r="5.7" fill="#00f"/>
<line x1="728.2" y1="259.7" x2="742.7" y2="283.2" stroke="#f00" stroke-width="2.2"/>
<circle cx="733.7" cy="268.2" r="5.7" fill="#f00"/>
<line x1="723.0" y1="267.9" x2="751.8" y2="269.9" stroke="#00f" stroke-width="2.2"/>
<circle cx="733.7" cy="268.2" r="5.7" fill="#00f"/>
<line x1="718.8" y1="287.7" x2="710.9" y2="265.4" stroke="#f00" stroke-width="2.2"/>
<circle cx="718.8" cy="287.7" r="5.7" fill="#f00"/>
<line x1="718.8" y1="287.7" x2="696.3" y2="281.1" stroke="#00f" stroke-width="2.2"/>
<circle cx="718.8" cy="287.7" r="5.7" fill="#00f"/>
<g class="t" font-size="21.2" fill="#666" stroke="#666" stroke-width="0.55" text-anchor="middle">
<text id="t1" x="212.5" y="30.3" textLength="201.5" lengthAdjust="spacingAndGlyphs">Northern Hemisphere</text>
<text id="t2" x="637.5" y="30.3" textLength="204" lengthAdjust="spacingAndGlyphs">Southern Hemisphere</text>
</g>
<g class="t" font-size="16.2" stroke-width="0.75">
<text id="b1" x="29" y="413.2" textLength="142" lengthAdjust="spacingAndGlyphs" fill="#f00" stroke="#f00">Red line: NOAA-21</text>
<text id="b2" x="256.5" y="413.2" textLength="166.8" lengthAdjust="spacingAndGlyphs" fill="#00f" stroke="#00f">Blue line: LANDSAT-8</text>
<text id="b3" x="454" y="413.2" textLength="177.4" lengthAdjust="spacingAndGlyphs" fill="#000" stroke="#000">TLE Epoch: 2025/10/11</text>
</g>
</svg>
</body></html>
